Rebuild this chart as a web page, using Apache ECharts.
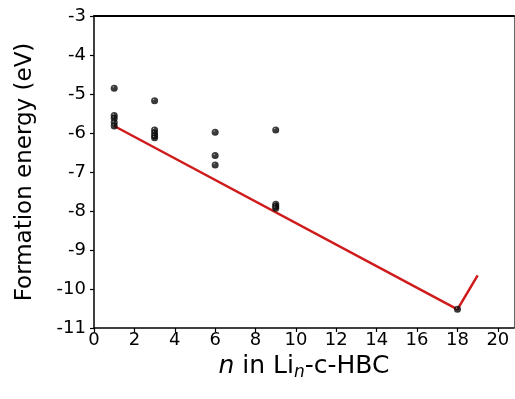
<!DOCTYPE html>
<html>
<head>
<meta charset="utf-8">
<script src="https://cdn.jsdelivr.net/npm/echarts@6/dist/echarts.min.js"></script>
<style>
  html, body { margin: 0; padding: 0; background: #fff; }
  #chart { width: 515px; height: 399px; }
</style>
</head>
<body>
<div id="chart"></div>
<script>
// Lithium count n for each computed configuration
const configN = [1, 1, 1, 1, 1, 3, 3, 3, 3, 3, 6, 6, 6, 9, 9, 9, 9, 18];
// Formation energy (eV) of each configuration
const configE = [-4.85, -5.55, -5.62, -5.73, -5.82,
                 -5.17, -5.92, -6.00, -6.07, -6.12,
                 -5.98, -6.58, -6.82,
                 -5.92, -7.83, -7.88, -7.93,
                 -10.52];
// Lower envelope (red line)
const hullN = [1, 18, 19];
const hullE = [-5.82, -10.52, -9.65];
// Axis ticks
const xTicks = [0, 2, 4, 6, 8, 10, 12, 14, 16, 18, 20];
const yTicks = [-11, -10, -9, -8, -7, -6, -5, -4, -3];

const FONT = '"DejaVu Sans", "Liberation Sans", Arial, sans-serif';
const chart = echarts.init(document.getElementById('chart'), null, { renderer: 'canvas' });

// shaded black sphere for each configuration marker
const ball = {
  type: 'radial', x: 0.36, y: 0.32, r: 0.7,
  colorStops: [
    { offset: 0, color: '#bdbdbd' },
    { offset: 0.2, color: '#111' },
    { offset: 1, color: '#000' }
  ]
};

chart.setOption({
  animation: false,
  backgroundColor: '#fff',
  grid: { left: 94, right: 1, top: 16, bottom: 71 },
  xAxis: [{
    type: 'value', min: 0, max: 20.8, interval: 2,
    name: '{i|n} in Li{sub|n}-c-HBC',
    nameLocation: 'middle', nameGap: 22,
    nameTextStyle: {
      fontFamily: FONT, fontSize: 25, color: '#000',
      rich: {
        i: { fontFamily: FONT, fontSize: 25, fontStyle: 'italic', color: '#000' },
        sub: { fontFamily: FONT, fontSize: 17, fontStyle: 'italic', color: '#000', padding: [13, 0, 0, 0] }
      }
    },
    axisLine: { lineStyle: { color: '#000', width: 1.5 } },
    axisTick: { length: 4, lineStyle: { color: '#000', width: 1.2 }, customValues: xTicks },
    axisLabel: { fontFamily: FONT, fontSize: 18, color: '#000', margin: 3, customValues: xTicks },
    splitLine: { show: false }
  }, {
    type: 'value', position: 'top', min: 0, max: 20.8,
    axisLine: { show: true, onZero: false, lineStyle: { color: '#000', width: 2 } },
    axisTick: { show: false }, axisLabel: { show: false }, splitLine: { show: false }
  }],
  yAxis: [{
    type: 'value', min: -11, max: -3, interval: 1,
    name: 'Formation energy (eV)',
    nameLocation: 'middle', nameGap: 57,
    nameTextStyle: { fontFamily: FONT, fontSize: 23, color: '#000' },
    axisLine: { onZero: false, lineStyle: { color: '#000', width: 1.5 } },
    axisTick: { length: 4, lineStyle: { color: '#000', width: 1.2 } },
    axisLabel: { fontFamily: FONT, fontSize: 18, color: '#000', margin: 8, customValues: yTicks },
    splitLine: { show: false }
  }, {
    type: 'value', position: 'right', min: -11, max: -3,
    axisLine: { show: true, onZero: false, lineStyle: { color: '#666', width: 1 } },
    axisTick: { show: false }, axisLabel: { show: false }, splitLine: { show: false }
  }],
  series: [{
    type: 'line',
    data: hullN.map((n, i) => [n, hullE[i]]),
    symbol: 'none',
    lineStyle: { color: '#cf1b1b', width: 2.5 },
    z: 2
  }, {
    type: 'scatter',
    data: configN.map((n, i) => [n, configE[i]]),
    symbol: 'circle', symbolSize: 7,
    itemStyle: { color: ball },
    z: 3
  }]
});
</script>
</body>
</html>
